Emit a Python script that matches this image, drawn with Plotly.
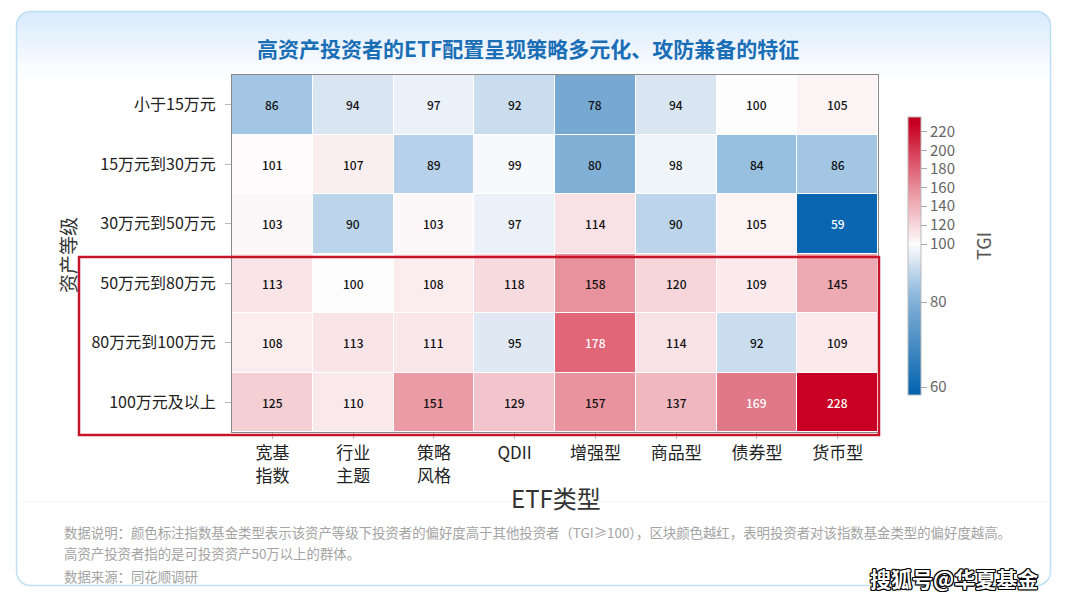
import base64
import numpy as np
import plotly.graph_objects as go

# ---------------- data ----------------
asset_levels = ["小于15万元", "15万元到30万元", "30万元到50万元",
                "50万元到80万元", "80万元到100万元", "100万元及以上"]
etf_types = ["宽基<br>指数", "行业<br>主题", "策略<br>风格", "QDII",
             "增强型", "商品型", "债券型", "货币型"]
tgi_lt15 = [86, 94, 97, 92, 78, 94, 100, 105]
tgi_15_30 = [101, 107, 89, 99, 80, 98, 84, 86]
tgi_30_50 = [103, 90, 103, 97, 114, 90, 105, 59]
tgi_50_80 = [113, 100, 108, 118, 158, 120, 109, 145]
tgi_80_100 = [108, 113, 111, 95, 178, 114, 92, 109]
tgi_100up = [125, 110, 151, 129, 157, 137, 169, 228]
cbar_ticks = [60, 80, 100, 120, 140, 160, 180, 200, 220]

z_vals = np.array([tgi_lt15, tgi_15_30, tgi_30_50, tgi_50_80, tgi_80_100, tgi_100up], dtype=float)

# ---------------- layout geometry ----------------
W, H = 1065, 602
L, R, T, B = 232, 878, 75, 432
PW, PH = R - L, B - T


def px(x):
    return (x - L) / PW


def py(y):
    return (B - y) / PH


# non-linear colour-bar scale (value -> position along the bar)
knot_v = [57.6, 60, 80, 100, 120, 140, 160, 180, 200, 220, 236]
knot_p = [395, 387, 302, 244, 225, 206, 187.3, 168.3, 150.7, 131.7, 116.7]
CB_BOT, CB_TOP = 395, 116.7


def norm(v):
    p = np.interp(v, knot_v, knot_p)
    return (CB_BOT - p) / (CB_BOT - CB_TOP)


color_knots = [
    (57.6, "rgb(5,98,172)"), (59, "rgb(8,102,176)"), (78, "rgb(118,168,210)"),
    (80, "rgb(128,176,214)"), (86, "rgb(162,198,228)"), (90, "rgb(188,213,234)"),
    (95, "rgb(224,233,243)"), (98, "rgb(240,245,250)"), (100, "rgb(253,253,253)"),
    (104, "rgb(252,245,246)"), (108, "rgb(251,236,238)"), (113, "rgb(249,228,231)"),
    (120, "rgb(246,214,218)"), (125, "rgb(244,208,213)"), (129, "rgb(242,196,203)"),
    (137, "rgb(240,183,190)"), (145, "rgb(237,170,178)"), (151, "rgb(234,155,166)"),
    (158, "rgb(232,146,157)"), (169, "rgb(225,120,135)"), (178, "rgb(224,102,120)"),
    (228, "rgb(200,0,35)"), (236, "rgb(195,0,30)"),
]
colorscale = [[float(norm(v)), c] for v, c in color_knots]
colorscale[0][0] = 0.0
colorscale[-1][0] = 1.0

FONT = "Noto Sans CJK SC"

fig = go.Figure()
fig.add_trace(go.Heatmap(
    z=norm(z_vals), x=etf_types, y=asset_levels,
    zmin=0, zmax=1, colorscale=colorscale,
    xgap=1, ygap=1,
    customdata=z_vals,
    hovertemplate="%{y} / %{x}: %{customdata}<extra></extra>",
    colorbar=dict(
        x=px(908), xanchor="left", xpad=0,
        y=py(256), yanchor="middle", ypad=0,
        thickness=13, lenmode="pixels", len=278,
        tickvals=[float(norm(t)) for t in cbar_ticks],
        ticktext=[str(t) for t in cbar_ticks],
        ticks="outside", ticklen=6, tickcolor="#aaa", tickwidth=1,
        tickfont=dict(family=FONT, size=15, color="#666"),
        outlinewidth=1, outlinecolor="#bbb",
    ),
))

annotations = []
for i, row in enumerate(asset_levels):
    for j, col in enumerate(etf_types):
        v = z_vals[i, j]
        annotations.append(dict(
            x=col, y=row, xref="x", yref="y", text=str(int(v)), showarrow=False,
            font=dict(family=FONT, size=12, color="white" if (v > 165 or v < 65) else "#111",
                      weight=500),
        ))

# title
annotations.append(dict(
    x=px(528), y=py(48), xref="paper", yref="paper", showarrow=False,
    text="高资产投资者的ETF配置呈现策略多元化、攻防兼备的特征",
    font=dict(family=FONT, size=21, color="rgb(26,110,182)", weight="bold"),
    xanchor="center", yanchor="middle",
))
# axis titles
annotations.append(dict(
    x=px(556), y=py(497), xref="paper", yref="paper", showarrow=False,
    text="ETF类型", font=dict(family=FONT, size=24, color="#333"),
    xanchor="center", yanchor="middle",
))
annotations.append(dict(
    x=px(67), y=py(255), xref="paper", yref="paper", showarrow=False,
    text="资产等级", textangle=-90, font=dict(family=FONT, size=19, color="#333"),
    xanchor="center", yanchor="middle",
))
annotations.append(dict(
    x=px(983), y=py(246), xref="paper", yref="paper", showarrow=False,
    text="TGI", textangle=-90, font=dict(family=FONT, size=18, color="#555"),
    xanchor="center", yanchor="middle",
))
# notes
notes = [
    "数据说明：颜色标注指数基金类型表示该资产等级下投资者的偏好度高于其他投资者（TGI≥100），区块颜色越红，表明投资者对该指数基金类型的偏好度越高。",
    "高资产投资者指的是可投资资产50万以上的群体。",
    "数据来源：同花顺调研",
]
for k, (txt, yy) in enumerate(zip(notes, [532, 553, 576])):
    annotations.append(dict(
        x=px(62), y=py(yy), xref="paper", yref="paper", showarrow=False,
        text=txt, font=dict(family=FONT, size=13.4, color="#a3a3a3"),
        xanchor="left", yanchor="middle",
    ))
# watermark
annotations.append(dict(
    x=px(1040), y=py(578), xref="paper", yref="paper", showarrow=False,
    text="搜狐号@华夏基金",
    font=dict(family=FONT, size=21, color="white", weight="bold",
              shadow="1px 1px 0 #000, -1px -1px 0 #000, 1px -1px 0 #000, -1px 1px 0 #000, 0 1px 0 #000, 0 -1px 0 #000, 1px 0 0 #000, -1px 0 0 #000"),
    xanchor="right", yanchor="middle",
))

# card background as svg image
svg = f'''<svg xmlns="http://www.w3.org/2000/svg" width="{W}" height="{H}" viewBox="0 0 {W} {H}">
<defs><linearGradient id="g" x1="0" y1="0" x2="0" y2="1">
<stop offset="0" stop-color="rgb(216,234,252)"/>
<stop offset="0.1" stop-color="rgb(250,252,255)"/>
<stop offset="0.13" stop-color="rgb(255,255,255)"/>
<stop offset="1" stop-color="rgb(255,255,255)"/>
</linearGradient></defs>
<rect x="16.5" y="11.5" width="1034" height="574" rx="14" ry="14" fill="url(#g)" stroke="rgb(190,224,244)" stroke-width="1.5"/>
<line x1="17" y1="502" x2="1050" y2="502" stroke="rgb(246,246,246)" stroke-width="1"/>
</svg>'''
src = "data:image/svg+xml;base64," + base64.b64encode(svg.encode()).decode()

fig.update_layout(
    width=W, height=H,
    margin=dict(l=L, r=W - R, t=T, b=H - B, pad=0),
    paper_bgcolor="white", plot_bgcolor="#8a8a8a",
    font=dict(family=FONT),
    annotations=annotations,
    images=[dict(source=src, xref="paper", yref="paper",
                 x=px(0), y=py(0), sizex=W / PW, sizey=H / PH,
                 xanchor="left", yanchor="top", sizing="stretch", layer="below")],
    shapes=[dict(type="rect", xref="paper", yref="paper",
                 x0=px(79), x1=px(879), y0=py(435), y1=py(257),
                 line=dict(color="rgb(200,20,40)", width=2.5), fillcolor="rgba(0,0,0,0)")],
    xaxis=dict(side="bottom", ticks="outside", ticklen=6, tickcolor="#bbb",
               tickfont=dict(family=FONT, size=17, color="#222"),
               showline=True, mirror=True, linecolor="#8a8a8a", linewidth=1,
               showgrid=False, zeroline=False),
    yaxis=dict(autorange="reversed", ticks="outside", ticklen=6, tickcolor="#bbb",
               tickfont=dict(family=FONT, size=16, color="#222"),
               showline=True, mirror=True, linecolor="#8a8a8a", linewidth=1,
               showgrid=False, zeroline=False, ticklabelstandoff=6),
)

fig.write_html("out.html")
